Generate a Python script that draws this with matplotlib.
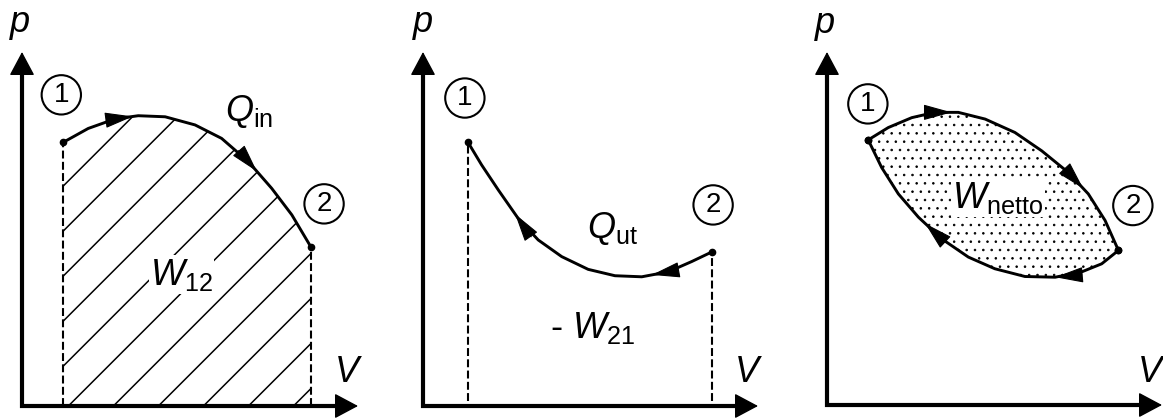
import numpy as np
import matplotlib
matplotlib.use('Agg')
from matplotlib import pyplot as plt
from matplotlib.patches import Polygon

plt.rcParams['font.family'] = 'Liberation Sans'
plt.rcParams['mathtext.fontset'] = 'custom'
plt.rcParams['mathtext.rm'] = 'Liberation Sans'
plt.rcParams['mathtext.it'] = 'Liberation Sans:italic'
plt.rcParams['hatch.linewidth'] = 0.6

# process 1 -> 2 (expansion, heat in)
v_12 = [1.23, 1.97, 2.77, 3.46, 4.26, 5.15, 5.94, 6.74, 7.43, 8.03, 8.60]
p_12 = [7.45, 7.84, 8.11, 8.20, 8.17, 7.94, 7.56, 6.90, 6.15, 5.40, 4.49]

# process 2 -> 1 (compression, heat out)
v_21 = [1.33, 1.75, 2.25, 2.84, 3.44, 4.14, 4.93, 5.73, 6.53, 7.32, 8.02, 8.64]
p_21 = [7.47, 6.81, 6.10, 5.30, 4.69, 4.22, 3.86, 3.68, 3.65, 3.79, 4.08, 4.36]

# cycle: upper and lower branches
v_upper = [1.23, 1.83, 2.53, 3.22, 3.92, 4.72, 5.61, 6.41, 7.20, 7.80, 8.30, 8.70]
p_upper = [7.51, 7.86, 8.14, 8.29, 8.29, 8.10, 7.72, 7.20, 6.59, 5.98, 5.23, 4.38]
v_lower = [1.23, 1.63, 2.13, 2.73, 3.42, 4.22, 5.01, 5.91, 6.81, 7.60, 8.20, 8.70]
p_lower = [7.51, 6.73, 5.98, 5.32, 4.71, 4.19, 3.86, 3.64, 3.62, 3.77, 4.00, 4.38]

# where the direction arrows sit (V of the tip) and which way they point
arrows_12 = [(3.30, 1), (6.99, 1)]
arrows_21 = [(2.75, -1), (6.83, -1)]
arrows_upper = [(3.72, 1), (7.65, 1)]
arrows_lower = [(6.81, -1), (2.93, -1)]

W, H = 1163, 419


def pv_axes(rect):
    ax = fig.add_axes(rect)
    ax.set_xlim(0, 10)
    ax.set_ylim(0, 10)
    ax.set_axis_off()
    # L shaped axes with big arrow heads
    ax.plot([0, 0, 0.955], [0.955, 0, 0], transform=ax.transAxes, color='k',
            lw=3, solid_joinstyle='miter', solid_capstyle='butt', clip_on=False)
    head = dict(arrowstyle='-|>,head_length=1.5,head_width=0.8', color='k',
                lw=1, shrinkA=0, shrinkB=0, mutation_scale=10)
    ax.annotate('', xy=(0, 1), xytext=(0, 0.9), xycoords='axes fraction',
                arrowprops=head, annotation_clip=False)
    ax.annotate('', xy=(1, 0), xytext=(0.9, 0), xycoords='axes fraction',
                arrowprops=head, annotation_clip=False)
    return ax


def draw_curve(ax, v, p, arrows):
    ax.plot(v, p, color='k', lw=2.1, solid_capstyle='round', zorder=4)
    ax.plot([v[0], v[-1]], [p[0], p[-1]], 'o', color='k', ms=4.5, zorder=5)
    for v_tip, d in arrows:
        p_tip = np.interp(v_tip, v, p)
        p_a = np.interp(v_tip - 0.1, v, p)
        p_b = np.interp(v_tip + 0.1, v, p)
        t = np.array([0.2, p_b - p_a]) * d
        t = t / np.hypot(*t)
        tail = (v_tip - 0.8 * t[0], p_tip - 0.8 * t[1])
        ax.annotate('', xy=(v_tip, p_tip), xytext=tail,
                    arrowprops=dict(arrowstyle='-|>,head_length=1.8,head_width=0.5',
                                    color='k', lw=0.8, shrinkA=0, shrinkB=0,
                                    mutation_scale=10), zorder=6)


def circled(ax, x, y, s):
    ax.text(x, y, s, fontsize=20, ha='center', va='center', zorder=7,
            bbox=dict(boxstyle='circle,pad=0.24', fc='white', ec='k', lw=1.5))


big = 26
dash = dict(color='k', lw=1.5, dashes=(3.8, 1.6))
fig = plt.figure(figsize=(W / 100, H / 100), dpi=100)

# ---- panel 1 ----
ax1 = pv_axes([22 / W, 13 / H, 336 / W, 354 / H])
poly = Polygon(list(zip(v_12, p_12)) + [(v_12[-1], 0), (v_12[0], 0)],
               closed=True, fc='none', ec='none')
ax1.add_patch(poly)
slope = 33.6 / 35.4
for c in np.arange(1.38 - 6 * 1.34, 10, 1.34):
    ln, = ax1.plot([c, c + 12], [0, 12 * slope], color='k', lw=1.1)
    ln.set_clip_path(poly)
for vx, px in [(v_12[0], p_12[0]), (v_12[-1], p_12[-1])]:
    ax1.plot([vx, vx], [0, px], **dash)
draw_curve(ax1, v_12, p_12, arrows_12)
circled(ax1, 1.17, 8.79, '1')
circled(ax1, 8.99, 5.71, '2')
ax1.text(6.04, 8.05, r'$Q_{\mathrm{in}}$', fontsize=big, va='baseline')
ax1.text(3.81, 3.42, r'$W_{12}$', fontsize=big, va='baseline', zorder=5,
         bbox=dict(fc='white', ec='none', pad=1))
ax1.text(-0.06, 10.56, 'p', fontsize=big, style='italic', ha='center',
         va='baseline', clip_on=False)
ax1.text(9.67, 0.68, 'V', fontsize=big, style='italic', ha='center',
         va='baseline', clip_on=False)

# ---- panel 2 ----
ax2 = pv_axes([423 / W, 13 / H, 335 / W, 354 / H])
for vx, px in [(v_21[0], p_21[0]), (v_21[-1], p_21[-1])]:
    ax2.plot([vx, vx], [0.15, px], **dash)
draw_curve(ax2, v_21, p_21, arrows_21)
circled(ax2, 1.25, 8.70, '1')
circled(ax2, 8.66, 5.68, '2')
ax2.text(4.90, 4.75, r'$Q_{\mathrm{ut}}$', fontsize=big, va='baseline')
ax2.text(3.79, 1.92, r'- $W_{21}$', fontsize=big, va='baseline')
ax2.text(0.0, 10.56, 'p', fontsize=big, style='italic', ha='center',
         va='baseline', clip_on=False)
ax2.text(9.67, 0.68, 'V', fontsize=big, style='italic', ha='center',
         va='baseline', clip_on=False)

# ---- panel 3 ----
ax3 = pv_axes([827 / W, 14 / H, 335 / W, 353 / H])
loop = Polygon(list(zip(v_upper, p_upper)) + list(zip(v_lower, p_lower))[::-1],
               closed=True, fc='white', ec='black', lw=0, hatch='..')
ax3.add_patch(loop)
draw_curve(ax3, v_upper, p_upper, arrows_upper)
draw_curve(ax3, v_lower, p_lower, arrows_lower)
circled(ax3, 1.22, 8.53, '1')
circled(ax3, 9.13, 5.65, '2')
ax3.text(3.73, 5.59, r'$W_{\mathrm{netto}}$', fontsize=big, va='baseline',
         zorder=5, bbox=dict(fc='white', ec='none', pad=1))
ax3.text(-0.06, 10.54, 'p', fontsize=big, style='italic', ha='center',
         va='baseline', clip_on=False)
ax3.text(9.64, 0.65, 'V', fontsize=big, style='italic', ha='center',
         va='baseline', clip_on=False)

plt.savefig('out.png', dpi=100)
